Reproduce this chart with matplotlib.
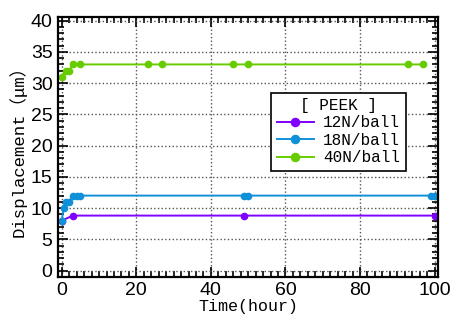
import numpy as np
import matplotlib
matplotlib.use('Agg')
import matplotlib.pyplot as plt
from matplotlib.ticker import MultipleLocator

plt.rcParams['font.family'] = ['Liberation Mono', 'Noto Sans CJK JP', 'DejaVu Sans']

# 12N/ball
t_12 = [0, 3, 49, 100]
d_12 = [8, 8.8, 8.8, 8.8]
# 18N/ball
t_18 = [0, 0.5, 1, 2, 3, 4, 5, 49, 50, 99, 100]
d_18 = [8, 10, 11, 11, 12, 12, 12, 12, 12, 12, 12]
# 40N/ball
t_40 = [0, 1, 2, 3, 5, 23, 27, 46, 50, 93, 97]
d_40 = [31, 32, 32, 33, 33, 33, 33, 33, 33, 33, 33]

labels = ['12N/ball', '18N/ball', '40N/ball']
colors = ['#7f00ff', '#1090d8', '#66cc00']

fig = plt.figure(figsize=(4.5, 3.2), dpi=100)
ax = fig.add_axes([0.129, 0.135, 0.845, 0.812])

for t, d, lab, c in zip([t_12, t_18, t_40], [d_12, d_18, d_40], labels, colors):
    ax.plot(t, d, '-o', color=c, lw=1.4, ms=4.5, label=lab)

ax.set_xlim(-1, 101)
ax.set_ylim(-1, 40.6)
ax.xaxis.set_major_locator(MultipleLocator(20))
ax.xaxis.set_minor_locator(MultipleLocator(2))
ax.yaxis.set_major_locator(MultipleLocator(5))
ax.yaxis.set_minor_locator(MultipleLocator(1))
ax.tick_params(which='both', direction='in', top=True, right=True, width=1.2, colors='black')
ax.tick_params(which='major', length=7, labelsize=14, pad=4)
ax.tick_params(which='minor', length=4)
for lbl in ax.get_xticklabels() + ax.get_yticklabels():
    lbl.set_family(['Liberation Sans', 'DejaVu Sans'])
for s in ax.spines.values():
    s.set_linewidth(1.6)
ax.grid(True, which='major', linestyle=':', color='#555555', lw=1)

ax.set_xlabel('Time(hour)', fontsize=12, labelpad=0)
ax.set_ylabel('Displacement（μm）', fontsize=12.5, labelpad=3)

leg = ax.legend(title='[ PEEK ]', loc='upper left', bbox_to_anchor=(0.54, 0.74),
                fontsize=11.5, title_fontsize=11.5, fancybox=False, edgecolor='black',
                framealpha=1, handlelength=2.3, handletextpad=0.6, borderpad=0.35,
                labelspacing=0.15, markerscale=1.3)
leg.get_frame().set_linewidth(1.2)

fig.savefig('out.png', dpi=100)
